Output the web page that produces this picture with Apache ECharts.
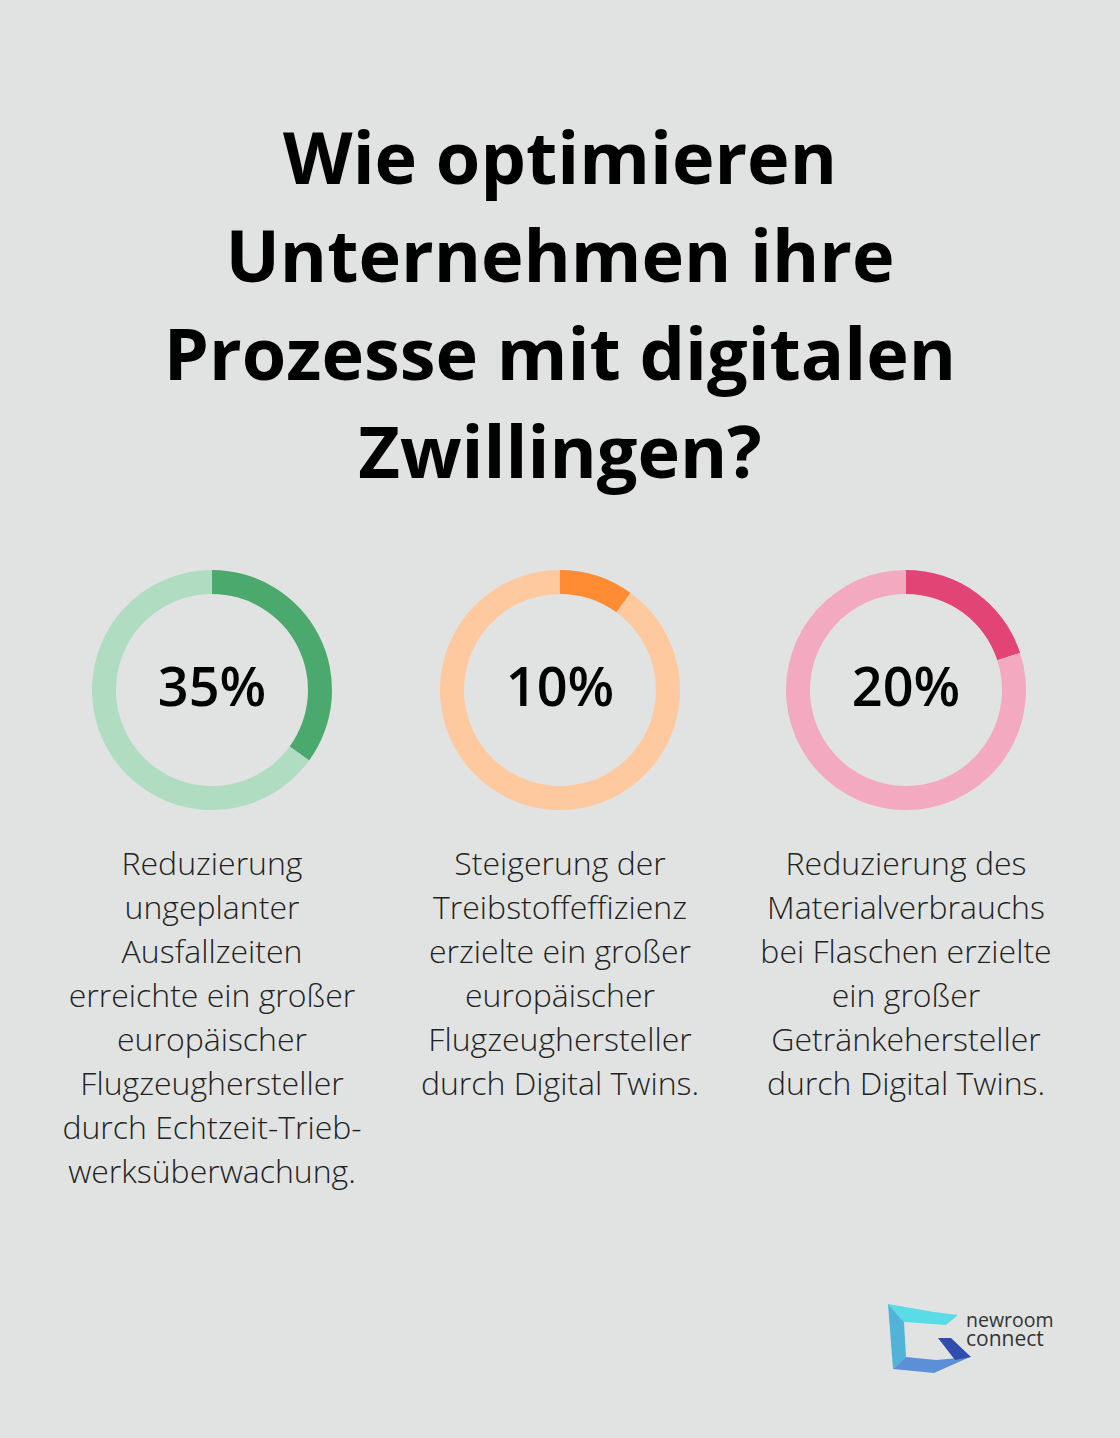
<!DOCTYPE html>
<html>
<head>
<meta charset="utf-8">
<script src="https://cdn.jsdelivr.net/npm/echarts@6/dist/echarts.min.js"></script>
<style>
html,body{margin:0;padding:0;background:#E1E3E2;}
#chart{width:1120px;height:1438px;}
</style>
</head>
<body>
<div id="chart"></div>
<script>
const titleLines = ['Wie optimieren', 'Unternehmen ihre', 'Prozesse mit digitalen', 'Zwillingen?'];
const values = [35, 10, 20];
const valueLabels = ['35%', '10%', '20%'];
const captions = [
  ['Reduzierung', 'ungeplanter', 'Ausfallzeiten', 'erreichte ein großer', 'europäischer', 'Flugzeughersteller', 'durch Echtzeit-Trieb-', 'werksüberwachung.'],
  ['Steigerung der', 'Treibstoffeffizienz', 'erzielte ein großer', 'europäischer', 'Flugzeughersteller', 'durch Digital Twins.'],
  ['Reduzierung des', 'Materialverbrauchs', 'bei Flaschen erzielte', 'ein großer', 'Getränkehersteller', 'durch Digital Twins.']
];
const darkColors = ['#4CA96E', '#FF8B33', '#E34476'];
const lightColors = ['#B0DDC1', '#FFC99F', '#F3A9BF'];
const centersX = [212, 560, 906];

const chart = echarts.init(document.getElementById('chart'), null, {renderer: 'svg'});

const series = values.map((v, i) => ({
  type: 'pie',
  center: [centersX[i], 690],
  radius: [96, 120],
  startAngle: 90,
  clockwise: true,
  silent: true,
  avoidLabelOverlap: false,
  label: {show: false},
  labelLine: {show: false},
  emphasis: {disabled: true},
  data: [
    {value: v, itemStyle: {color: darkColors[i]}},
    {value: 100 - v, itemStyle: {color: lightColors[i]}}
  ]
}));

const titles = [{
  text: titleLines.join('\n'),
  left: 560,
  top: 107,
  padding: 0,
  textAlign: 'center',
  textStyle: {fontFamily: 'Open Sans', fontSize: 72, fontWeight: 'bold', color: '#000', lineHeight: 98}
}];
valueLabels.forEach((t, i) => {
  titles.push({
    text: t,
    left: centersX[i],
    top: 655,
    padding: 0,
    textAlign: 'center',
    textStyle: {fontFamily: 'Open Sans', fontSize: 54, fontWeight: 600, color: '#000', lineHeight: 60}
  });
});
captions.forEach((lines, i) => {
  titles.push({
    text: lines.join('\n'),
    left: centersX[i],
    top: 840,
    padding: 0,
    textAlign: 'center',
    textStyle: {fontFamily: 'Open Sans', fontSize: 32, fontWeight: 300, color: '#222', lineHeight: 44}
  });
});

chart.setOption({
  backgroundColor: '#E1E3E2',
  title: titles,
  series: series,
  graphic: [
    {type: 'polygon', shape: {points: [[888,1304],[934,1312],[958,1315],[946,1325],[904,1322]]}, style: {fill: '#5ADCE6'}, silent: true},
    {type: 'polygon', shape: {points: [[888,1304],[904,1322],[906,1357],[893,1369]]}, style: {fill: '#52B3D9'}, silent: true},
    {type: 'polygon', shape: {points: [[893,1369],[906,1357],[936,1360],[970,1357],[934,1373]]}, style: {fill: '#5B90D9'}, silent: true},
    {type: 'polygon', shape: {points: [[938,1338],[951,1338],[971,1357],[955,1360]]}, style: {fill: '#2F4DAE'}, silent: true},
    {type: 'text', left: 966, top: 1309, silent: true,
     style: {text: '{a|newroom}\n{b|connect}', fill: '#333',
       rich: {
         a: {fontFamily: 'Open Sans', fontSize: 19.5, lineHeight: 19, fill: '#333'},
         b: {fontFamily: 'Open Sans', fontSize: 21, lineHeight: 19, fill: '#333'}
       }}}
  ]
});
</script>
</body>
</html>
